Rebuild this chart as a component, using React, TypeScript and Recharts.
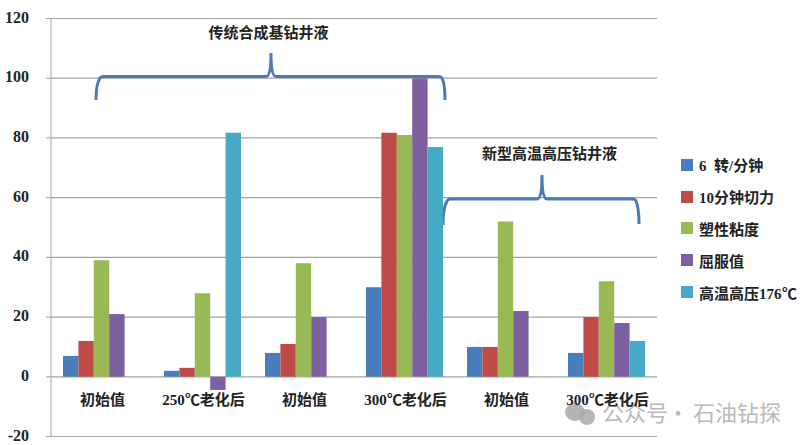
import { Bar, BarChart, CartesianGrid, Legend, XAxis, YAxis } from "recharts";

const categories = ["初始值", "250℃老化后", "初始值", "300℃老化后", "初始值", "300℃老化后"];
const speed6 = [7, 2, 8, 30, 10, 8];
const gel10 = [12, 3, 11, 81.7, 10, 20];
const plasticViscosity = [39, 28, 38, 81, 52, 32];
const yieldPoint = [21, -4.4, 20, 100, 22, 18];
const hthp176 = [null, 81.7, null, 77, null, 12];
const yTicks = [-20, 0, 20, 40, 60, 80, 100, 120];

const seriesNames = ["6  转/分钟", "10分钟切力", "塑性粘度", "屈服值", "高温高压176℃"];
const seriesColors = ["#4a7ebb", "#be4b48", "#98b954", "#7d60a0", "#46aac5"];
const seriesValues = [speed6, gel10, plasticViscosity, yieldPoint, hthp176];

const chartData = categories.map((category, i) => {
  const row: Record<string, string | number | null> = { category };
  seriesNames.forEach((name, s) => {
    row[name] = seriesValues[s][i];
  });
  return row;
});

// the wide ℃ comes from the CJK font, digits stay serif
const fontCss = `@font-face { font-family: "WideC"; font-weight: 700;
  src: local("Noto Sans CJK SC Bold"), local("NotoSansCJKsc-Bold"); unicode-range: U+2103; }`;
const FONT = '"WideC", "Liberation Serif", "Noto Sans CJK SC", serif';
const GRID = "#a3a3a3";
const BRACE = "#4a7ab8";

function CategoryTick({ x, y, payload }: any) {
  return (
    <text x={x + 1} y={y - 40} textAnchor="middle" fontFamily={FONT} fontWeight={700} fontSize={15} fill="#222">
      {payload.value}
    </text>
  );
}

function ValueTick({ x, y, payload }: any) {
  return (
    <text x={x - 15} y={y + 4} textAnchor="end" fontFamily={FONT} fontWeight={700} fontSize={16} fill="#222">
      {payload.value}
    </text>
  );
}

function LegendList({ payload }: any) {
  return (
    <div style={{ fontFamily: FONT, fontWeight: 700, fontSize: 15, color: "#222" }}>
      {(payload ?? []).map((item: any) => (
        <div key={item.value} style={{ display: "flex", alignItems: "center", height: 31.8 }}>
          <span style={{ width: 12, height: 12, background: item.color, marginRight: 6, flex: "none" }} />
          <span style={{ whiteSpace: "pre" }}>{item.value}</span>
        </div>
      ))}
    </div>
  );
}

export default function App() {
  return (
    <div style={{ position: "absolute", left: 0, top: 0, width: 808, height: 445, background: "#fff" }}>
      <style>{fontCss}</style>
      <BarChart
        width={808}
        height={445}
        data={chartData}
        margin={{ top: 18.5, right: 24, bottom: 7.5, left: 0 }}
        barGap={0}
        barSize={15.4}
      >
        <CartesianGrid vertical={false} stroke={GRID} strokeWidth={1.2} />
        <XAxis dataKey="category" height={1} axisLine={false} tickLine={false} interval={0} tick={<CategoryTick />} />
        <YAxis
          width={51}
          domain={[-20, 120]}
          ticks={yTicks}
          interval={0}
          stroke={GRID}
          tickSize={5}
          tick={<ValueTick />}
        />
        <Legend
          layout="vertical"
          align="right"
          verticalAlign="middle"
          width={151}
          itemSorter={null}
          content={<LegendList />}
          wrapperStyle={{ left: 681, top: 149, right: "auto", bottom: "auto", width: 127 }}
        />
        {seriesNames.map((name, s) => (
          <Bar key={name} dataKey={name} fill={seriesColors[s]} isAnimationActive={false} />
        ))}
        {/* brackets and group titles are drawn on the picture, not from the data */}
        <path
          d="M96 100 Q96 84 100 78 Q101 76.5 104 76.5 L266 76.5 Q271 76.5 271 53 Q271 76.5 276 76.5 L438 76.5 Q441 76.5 442 78 Q445 84 445 100"
          fill="none"
          stroke={BRACE}
          strokeWidth={3}
        />
        <path
          d="M443 225 Q443 208 447 201 Q448 199 451 199 L537 199 Q542 199 542 175 Q542 199 547 199 L632 199 Q635 199 636 201 Q639 208 639 224"
          fill="none"
          stroke={BRACE}
          strokeWidth={3}
        />
        <text x={268.5} y={38} textAnchor="middle" fontFamily={FONT} fontWeight={700} fontSize={15} fill="#222">
          传统合成基钻井液
        </text>
        <text x={549.5} y={159} textAnchor="middle" fontFamily={FONT} fontWeight={700} fontSize={15} fill="#222">
          新型高温高压钻井液
        </text>
        {/* watermark */}
        <g fill="#a8a8a8" fillOpacity={0.85}>
          <ellipse cx={575} cy={412} rx={10} ry={9} />
          <ellipse cx={587} cy={417} rx={8} ry={8} />
        </g>
        <text fontFamily='"Noto Sans CJK SC", sans-serif' fontSize={22} y={421} fill="#b0b0b0" fillOpacity={0.9}>
          <tspan x={602}>公众号</tspan>
          <tspan x={667}>·</tspan>
          <tspan x={693}>石油钻探</tspan>
        </text>
      </BarChart>
    </div>
  );
}
